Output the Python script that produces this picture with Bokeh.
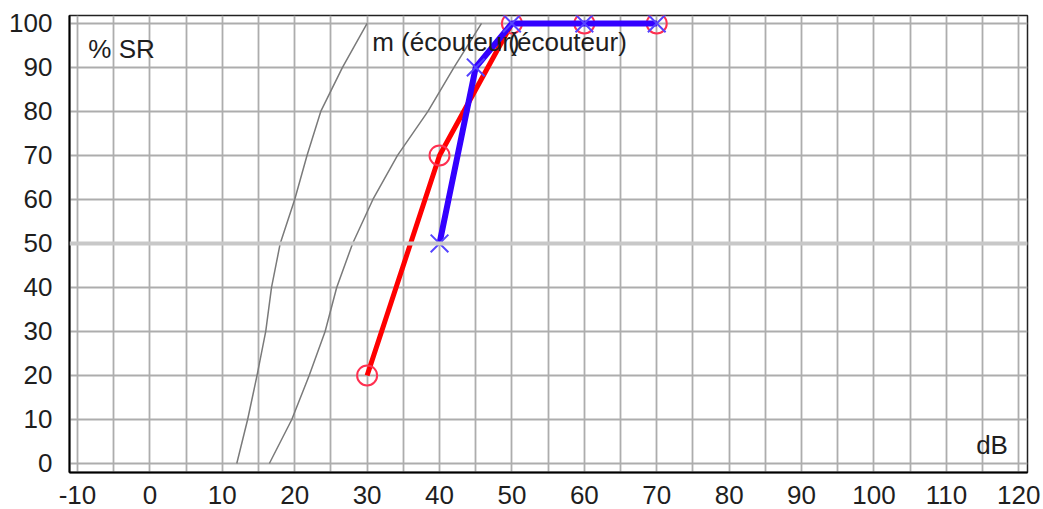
from bokeh.plotting import figure
from bokeh.models import Range1d, FixedTicker, Span
from bokeh.core.properties import value
from bokeh.embed import file_html
from bokeh.resources import INLINE

# ---- data ----
x_ticks = [-10, 0, 10, 20, 30, 40, 50, 60, 70, 80, 90, 100, 110, 120]
x_grid = [-10 + 5 * i for i in range(27)]
y_ticks = [0, 10, 20, 30, 40, 50, 60, 70, 80, 90, 100]

norm1_x = [12, 13.5, 14.8, 16.0, 16.8, 18.0, 20.0, 21.7, 23.6, 26.6, 30.0]
norm1_y = [0, 10, 20, 30, 40, 50, 60, 70, 80, 90, 100]
norm2_x = [16.5, 19.6, 22.0, 24.2, 25.8, 28.0, 30.8, 34.2, 38.4, 42.0, 45.8]
norm2_y = [0, 10, 20, 30, 40, 50, 60, 70, 80, 90, 100]

red_x = [30, 40, 50, 60, 70]
red_y = [20, 70, 100, 100, 100]
blue_x = [40, 45, 50, 60, 70]
blue_y = [50, 90, 100, 100, 100]

ref_level = 50

FONT = "Liberation Sans"

p = figure(frame_width=958, frame_height=457, width=1043, height=509,
           x_range=Range1d(-11.1, 121.2), y_range=Range1d(-2.05, 101.8),
           output_backend="svg", toolbar_location=None,
           min_border_left=69, min_border_right=16, min_border_top=15, min_border_bottom=37,
           background_fill_color="white", border_fill_color="white")

p.outline_line_color = "#222222"
p.outline_line_width = 1.5

# grids
p.xgrid.ticker = FixedTicker(ticks=x_grid)
p.ygrid.ticker = FixedTicker(ticks=y_ticks)
for g in (p.xgrid, p.ygrid):
    g.grid_line_color = "#adadad"
    g.grid_line_width = 1.8

# axes
p.xaxis.ticker = FixedTicker(ticks=x_ticks)
p.yaxis.ticker = FixedTicker(ticks=y_ticks)
p.xaxis.major_label_overrides = {t: str(t) for t in x_ticks}
for ax in (p.xaxis, p.yaxis):
    ax.major_tick_line_color = None
    ax.minor_tick_line_color = None
    ax.axis_line_color = "black"
    ax.axis_line_width = 2
    ax.major_label_text_font = FONT
    ax.major_label_text_font_size = "26px"
    ax.major_label_text_color = "#1e1e1e"
p.yaxis.major_label_standoff = 11
p.xaxis.major_label_standoff = 7

# reference 50% line
p.add_layout(Span(location=ref_level, dimension="width", line_color="#c8c8c8", line_width=4))

# normal curves
p.line(norm1_x, norm1_y, line_color="#7a7a7a", line_width=1.5)
p.line(norm2_x, norm2_y, line_color="#7a7a7a", line_width=1.5)

# red series
p.line(red_x, red_y, line_color="#ff0000", line_width=5)
p.scatter(red_x, red_y, marker="circle", size=20, fill_color=None,
          line_color="#ff3050", line_width=2)

# blue series
p.line(blue_x, blue_y, line_color="#3300ff", line_width=6)
p.scatter(blue_x, blue_y, marker="x", size=25, line_color="#5544ff", line_width=2)

# texts
p.text(x=[-8.5], y=[94.2], text=["% SR"], text_font=value(FONT), text_font_size="26px",
       text_color="#1e1e1e", text_baseline="middle", text_align="left")
p.text(x=[30.7, 49.5], y=[95.8, 95.8], text=["m (écouteur)", "(écouteur)"],
       text_font=value(FONT), text_font_size="26px", text_color="#1e1e1e",
       text_baseline="middle", text_align="left")
p.text(x=[118.5], y=[4.3], text=["dB"], text_font=value(FONT), text_font_size="26px",
       text_color="#1e1e1e", text_baseline="middle", text_align="right")

open("out.html", "w").write(file_html(p, INLINE))
